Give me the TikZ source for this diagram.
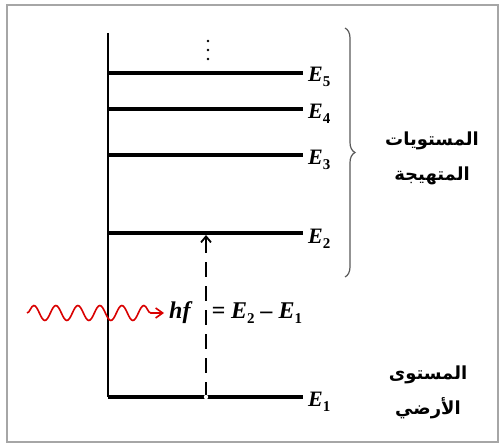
\documentclass[tikz,border=0pt]{standalone}
\usepackage{fontspec}
\setmainfont{Liberation Serif}
\newfontfamily\arabicfont[Script=Arabic]{DejaVu Sans}
\TeXXeTstate=1
\usetikzlibrary{decorations.pathmorphing,decorations.pathreplacing,arrows.meta}
\newcommand{\sbs}[1]{\raisebox{-4.5pt}{\fontsize{15}{16}\selectfont\upshape #1}}
\begin{document}
\begin{tikzpicture}[x=1pt,y=-1pt,
  level/.style={line width=3.4pt},
  elabel/.style={anchor=west,inner sep=0pt,font=\fontsize{22}{24}\selectfont\bfseries\itshape},
  artext/.style={align=center,inner sep=0pt,font=\fontsize{18}{35}\selectfont\arabicfont\bfseries}]
\useasboundingbox (0,0) rectangle (501,446);
\draw[gray!70,line width=1.5pt] (7,5) rectangle (498,442);
% axis and levels
\coordinate (top) at (108,33);
\coordinate (L1) at (108,397); \coordinate (R1) at (303,397);
\coordinate (L2) at (108,233); \coordinate (R2) at (303,233);
\coordinate (L3) at (108,155); \coordinate (R3) at (303,155);
\coordinate (L4) at (108,109); \coordinate (R4) at (303,109);
\coordinate (L5) at (108,73);  \coordinate (R5) at (303,73);
\draw[line width=2.2pt] (top) -- (L1);
\foreach \i in {1,...,5} \draw[level] (L\i) -- (R\i);
\node[elabel] (e5) at (308,77) {E\sbs{5}};
\node[elabel] (e4) at (308,114) {E\sbs{4}};
\node[elabel] (e3) at (308,160) {E\sbs{3}};
\node[elabel] (e2) at (308,239) {E\sbs{2}};
\node[elabel] (e1) at (308,402) {E\sbs{1}};
% dots
\foreach \y in {41,50,59} \fill (208,\y) circle (1.4pt);
% dashed arrow
\coordinate (a1) at (206,397);
\coordinate (a2) at (206,235);
\draw[line width=1.8pt,dash pattern=on 15pt off 9pt,-{Straight Barb[length=6pt,width=10pt]}] (a1) -- (a2);
\fill[white] (a1) circle (2.2pt);
% photon
\coordinate (w1) at (27,313);
\coordinate (w2) at (164,313);
\draw[red!85!black,line width=1.6pt,decorate,decoration={snake,segment length=22pt,amplitude=7.5pt,post length=12pt},-{Straight Barb[length=7pt,width=10pt]}] (w1) -- (w2);
\node[anchor=west,inner sep=0pt,font=\fontsize{24}{26}\selectfont\bfseries\itshape] (hf) at (169,313) {hf\hspace{21pt}=\hspace{6pt}E\sbs{2}\hspace{6pt}--\hspace{6pt}E\sbs{1}};
% brace
\coordinate (b1) at (345,28);
\coordinate (b2) at (345,277);
\draw[gray!70!black,line width=1.2pt,decorate,decoration={brace,amplitude=10pt}] (b1) -- (b2);
\node[artext] (exc) at (432,158) {\beginR المستويات\endR\\\beginR المتهيجة\endR};
\node[artext] (gnd) at (428,392) {\beginR المستوى\endR\\\beginR الأرضي\endR};
\end{tikzpicture}
\end{document}
